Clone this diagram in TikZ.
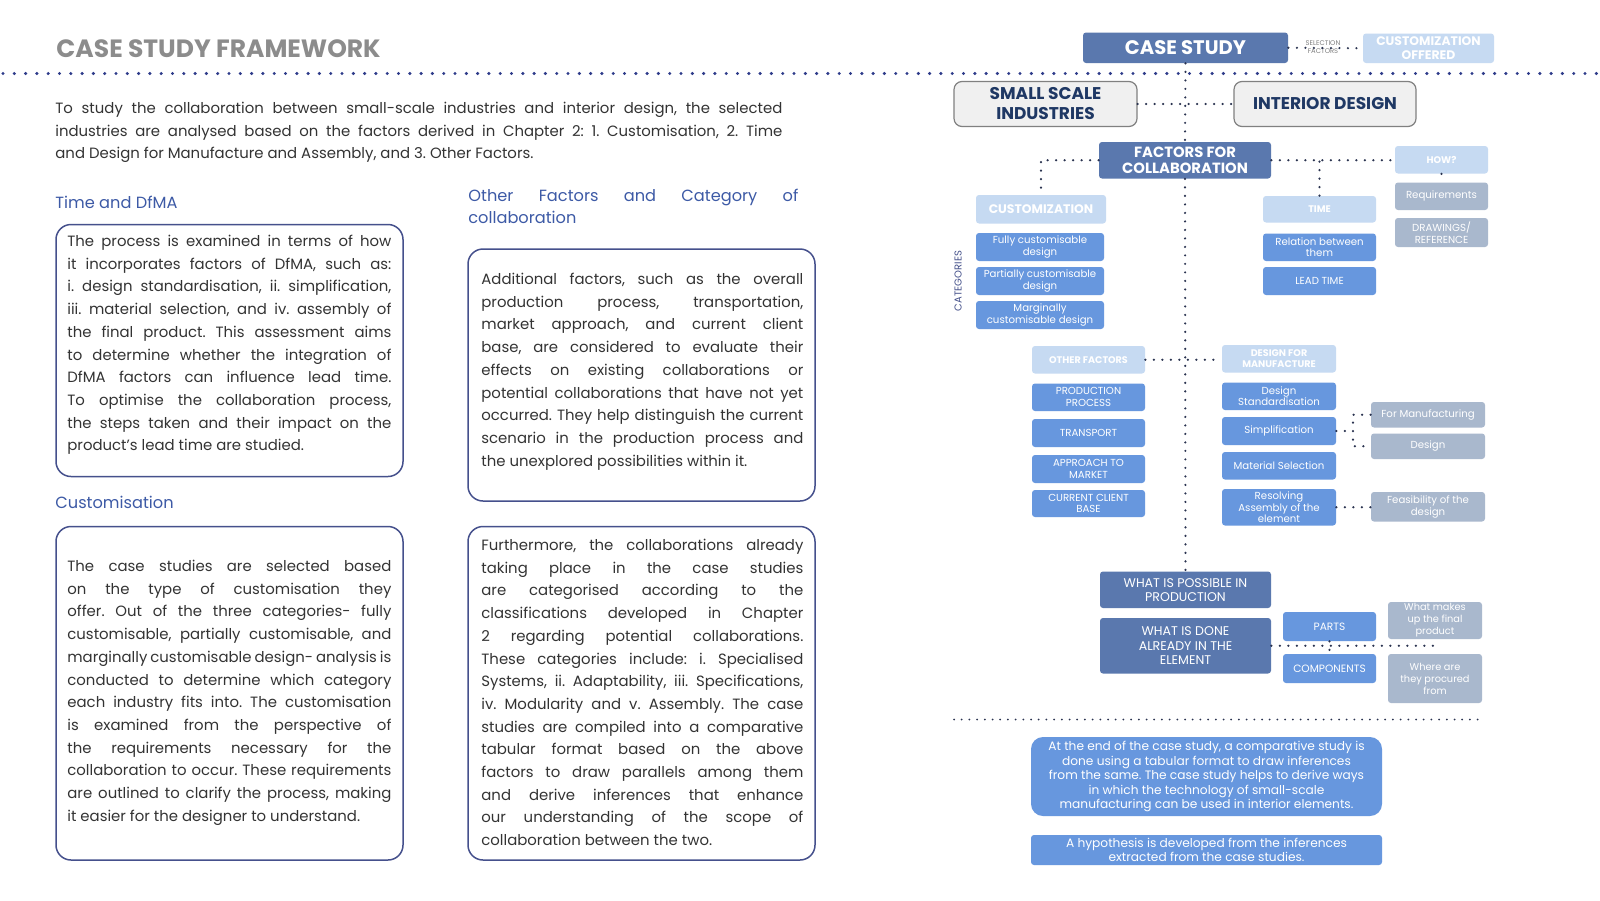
\documentclass[tikz,border=0pt]{standalone}
\usepackage{fontspec}
\setmainfont{Poppins}
\usetikzlibrary{calc}
\definecolor{dkb}{HTML}{5A78AE}
\definecolor{ltb}{HTML}{C6DAF2}
\definecolor{mdb}{HTML}{6797DE}
\definecolor{gyb}{HTML}{A9B8CD}
\definecolor{navy}{HTML}{1F3864}
\definecolor{dotc}{HTML}{2A3350}
\definecolor{rulec}{HTML}{2E3B8A}
\definecolor{bordc}{HTML}{45508C}
\definecolor{headc}{HTML}{3D5AA6}
\definecolor{bodyc}{HTML}{333333}
\definecolor{titlec}{HTML}{8C8C8C}
\definecolor{ssib}{HTML}{F0F0F0}
\definecolor{ssibd}{HTML}{808080}
\definecolor{catc}{HTML}{44508A}
\frenchspacing
\newcommand\fs[2]{\fontsize{#1}{#2}\selectfont}
\newcommand\jln[1]{\hbox to\hsize{#1}}
\newcommand\lastln[1]{\hbox{#1}}
\newcommand\bodyfont{\fs{7.45}{11.35}}
\newcommand\headfont{\fs{8.1}{11.1}}
\newcommand\para[3]{\vtop{\hsize=#1\relax#2#3}}
\newcommand\bx[7]{\node[#2,minimum width={(#5-#3)*0.5pt},minimum height={(#6-#4)*0.5pt}] (#1) at ({(#3+#5)/2},{(#4+#6)/2}) {#7};}
\begin{document}
\begin{tikzpicture}[x=0.5pt,y=-0.5pt,
  box/.style={inner sep=0pt, align=center, rounded corners=1.5pt, text=white},
  dk/.style={box, fill=dkb},
  lt/.style={box, fill=ltb, font=\fs{4.8}{5.6}\bfseries},
  md/.style={box, fill=mdb, font=\fs{5.1}{5.9}},
  gy/.style={box, fill=gyb, font=\fs{5.1}{5.9}},
  gb/.style={box, fill=ssib, draw=ssibd, line width=0.6pt, rounded corners=4pt, text=navy, font=\fs{8.5}{10}\bfseries},
  tbox/.style={draw=bordc, line width=0.75pt, rounded corners=7.5pt, inner sep=0pt},
  txt/.style={anchor=base west, inner sep=0pt, text=bodyc},
  head/.style={anchor=base west, inner sep=0pt, text=headc, font=\headfont},
  dots/.style={dotc, line width=1.2pt, line cap=round, dash pattern=on 0pt off 4.25pt},
  rule/.style={rulec, line width=1.7pt, line cap=round, dash pattern=on 0pt off 5.65pt},
  sep/.style={dotc, line width=1pt, line cap=round, dash pattern=on 0pt off 3.85pt}]
\useasboundingbox[fill=white] (0,0) rectangle (1600,900);
% ---------- left side ----------
\node[anchor=base west, inner sep=0pt, text=titlec, font=\fs{12.5}{14}\bfseries] (title) at (56,57) {CASE STUDY FRAMEWORK};
\coordinate (rl) at (3,73.5);
\coordinate (rr) at (1600,73.5);
\draw[rule] (rl) -- (rr);
\node[txt] (intro) at (55,113.5) {\para{363.5pt}{\bodyfont}{%
\jln{To study the collaboration between small-scale industries and interior design, the selected}%
\jln{industries are analysed based on the factors derived in Chapter 2: 1. Customisation, 2. Time}%
\lastln{and Design for Manufacture and Assembly, and 3. Other Factors.}}};
\node[head] (h1) at (55,208) {Time and DfMA};
\node[head] (h2) at (55,508) {Customisation};
\node[head] (h3) at (468,201) {\para{165pt}{\headfont}{\jln{Other Factors and Category of}\lastln{collaboration}}};
\bx{b1}{tbox}{56}{224.5}{403}{476.5}{}
\bx{b2}{tbox}{56}{526.5}{403}{860}{}
\bx{b3}{tbox}{468}{249}{815}{501}{}
\bx{b4}{tbox}{468}{526.5}{815}{860}{}
\node[txt] (p1) at (67,246.5) {\para{162pt}{\bodyfont}{%
\jln{The process is examined in terms of how}%
\jln{it incorporates factors of DfMA, such as:}%
\jln{i. design standardisation, ii. simplification,}%
\jln{iii. material selection, and iv. assembly of}%
\jln{the final product. This assessment aims}%
\jln{to determine whether the integration of}%
\jln{DfMA factors can influence lead time.}%
\jln{To optimise the collaboration process,}%
\jln{the steps taken and their impact on the}%
\lastln{product’s lead time are studied.}}};
\node[txt] (p2) at (67,571.5) {\para{162pt}{\bodyfont}{%
\jln{The case studies are selected based}%
\jln{on the type of customisation they}%
\jln{offer. Out of the three categories- fully}%
\jln{customisable, partially customisable, and}%
\jln{marginally customisable design- analysis is}%
\jln{conducted to determine which category}%
\jln{each industry fits into. The customisation}%
\jln{is examined from the perspective of}%
\jln{the requirements necessary for the}%
\jln{collaboration to occur. These requirements}%
\jln{are outlined to clarify the process, making}%
\lastln{it easier for the designer to understand.}}};
\node[txt] (p3) at (481,284.5) {\para{161pt}{\bodyfont}{%
\jln{Additional factors, such as the overall}%
\jln{production process, transportation,}%
\jln{market approach, and current client}%
\jln{base, are considered to evaluate their}%
\jln{effects on existing collaborations or}%
\jln{potential collaborations that have not yet}%
\jln{occurred. They help distinguish the current}%
\jln{scenario in the production process and}%
\lastln{the unexplored possibilities within it.}}};
\node[txt] (p4) at (481,550.5) {\para{161pt}{\bodyfont}{%
\jln{Furthermore, the collaborations already}%
\jln{taking place in the case studies}%
\jln{are categorised according to the}%
\jln{classifications developed in Chapter}%
\jln{2 regarding potential collaborations.}%
\jln{These categories include: i. Specialised}%
\jln{Systems, ii. Adaptability, iii. Specifications,}%
\jln{iv. Modularity and v. Assembly. The case}%
\jln{studies are compiled into a comparative}%
\jln{tabular format based on the above}%
\jln{factors to draw parallels among them}%
\jln{and derive inferences that enhance}%
\jln{our understanding of the scope of}%
\lastln{collaboration between the two.}}};
% ---------- right diagram ----------
\bx{cs}{dk,font=\fs{9.8}{12}\bfseries}{1083}{32.5}{1288}{63}{CASE STUDY}
\bx{co}{lt,font=\fs{6.2}{7}\bfseries}{1363}{33.5}{1494}{63}{CUSTOMIZATION\\OFFERED}
\bx{ssi}{gb}{954}{81.5}{1137}{126.5}{SMALL SCALE\\INDUSTRIES}
\bx{id}{gb}{1234}{81.5}{1416}{126.5}{INTERIOR DESIGN}
\bx{fac}{dk,font=\fs{7.4}{8}\bfseries}{1099}{142}{1271}{178.5}{FACTORS FOR\\COLLABORATION}
\bx{cust}{lt,font=\fs{6.2}{7}\bfseries}{976}{195}{1106}{223.5}{CUSTOMIZATION}
\bx{fcd}{md}{976}{233}{1104}{261}{Fully customisable\\design}
\bx{pcd}{md}{976}{267}{1104}{295}{Partially customisable\\design}
\bx{mcd}{md}{976}{301}{1104}{329}{Marginally\\customisable design}
\bx{time}{lt}{1263}{196}{1376}{222.5}{TIME}
\bx{rel}{md}{1263}{233.5}{1376}{261}{Relation between\\them}
\bx{lead}{md}{1263}{267}{1376}{295}{LEAD TIME}
\bx{how}{lt}{1395}{146}{1488}{173.5}{HOW?}
\bx{req}{gy}{1395}{182.5}{1488}{210}{Requirements}
\bx{drw}{gy}{1395}{218}{1488}{247}{DRAWINGS/\\REFERENCE}
\bx{oth}{lt}{1032}{346}{1145}{373.5}{OTHER FACTORS}
\bx{dfm}{lt}{1222}{345}{1336}{372.5}{DESIGN FOR\\MANUFACTURE}
\bx{pp}{md}{1032}{383.5}{1145}{411}{PRODUCTION\\PROCESS}
\bx{tr}{md}{1032}{419}{1145}{447}{TRANSPORT}
\bx{am}{md}{1032}{455}{1145}{483}{APPROACH TO\\MARKET}
\bx{ccb}{md}{1032}{490}{1145}{517}{CURRENT CLIENT\\BASE}
\bx{ds}{md}{1222}{382.5}{1336}{410}{Design\\Standardisation}
\bx{simp}{md}{1222}{417}{1336}{445}{Simplification}
\bx{ms}{md}{1222}{452}{1336}{479.5}{Material Selection}
\bx{res}{md}{1222}{489}{1336}{525.5}{Resolving\\Assembly of the\\element}
\bx{fm}{gy}{1371}{402}{1485}{427.5}{For Manufacturing}
\bx{des}{gy}{1371}{433.5}{1485}{459}{Design}
\bx{feas}{gy}{1371}{492}{1485}{521.5}{Feasibility of the\\design}
\bx{wip}{dk,font=\fs{6.3}{7}}{1100}{571.5}{1271}{608}{WHAT IS POSSIBLE IN\\PRODUCTION}
\bx{wid}{dk,font=\fs{6.3}{7.2}}{1100}{618}{1271}{673.5}{WHAT IS DONE\\ALREADY IN THE\\ELEMENT}
\bx{parts}{md,font=\fs{5.3}{6}}{1283}{612}{1376}{641}{PARTS}
\bx{comp}{md,font=\fs{5.3}{6}}{1283}{654}{1376}{683}{COMPONENTS}
\bx{wm}{gy,font=\fs{4.9}{6}}{1388}{602}{1482}{639}{What makes\\up the final\\product}
\bx{wp}{gy,font=\fs{4.9}{6}}{1388}{654}{1482}{703}{Where are\\they procured\\from}
\bx{end1}{md,rounded corners=6pt,font=\fs{6.1}{7.25}}{1031}{737}{1382}{816}{At the end of the case study, a comparative study is\\done using a tabular format to draw inferences\\from the same. The case study helps to derive ways\\in which the technology of small-scale\\manufacturing can be used in interior elements.}
\bx{end2}{md,font=\fs{6.1}{6.7}}{1031}{835}{1382}{865}{A hypothesis is developed from the inferences\\extracted from the case studies.}
\node[inner sep=0pt, align=center, text=gray, font=\fs{3.4}{3.8}] (sel) at (1323,47) {SELECTION\\FACTORS};
\node[inner sep=0pt, rotate=90, text=catc, font=\fs{5}{6}] (cat) at (958,281) {CATEGORIES};
% ---------- connectors ----------
\coordinate (sj) at (1353,431);
\coordinate (sepl) at (954,719.5);
\coordinate (sepr) at (1482,719.5);
\draw[dots] (cs.south) -- (fac.north);
\draw[dots] (fac.south) -- (wip.north);
\draw[dots] (ssi.east) -- (id.west);
\draw[dots] (cs.east) -- (co.west);
\draw[dots] (fac.west) -| (cust.north);
\draw[dots] (fac.east) -- (fac.east -| how.west);
\draw[dots] (time.north) -- (time.north |- fac.east);
\draw[dots] (how.south) -- (req.north);
\draw[dots] (oth.east) -- (oth.east -| dfm.west);
\draw[dots] (simp.east) -- (simp.east -| sj);
\draw[dots] (fm.west) -| (sj) |- (des.west);
\draw[dots] (res.east) -- (res.east -| feas.west);
\draw[dots] (wid.east) -| (wm.south);
\draw[dots] (parts.south) -- (comp.north);
\draw[sep] (sepl) -- (sepr);
\end{tikzpicture}
\end{document}
